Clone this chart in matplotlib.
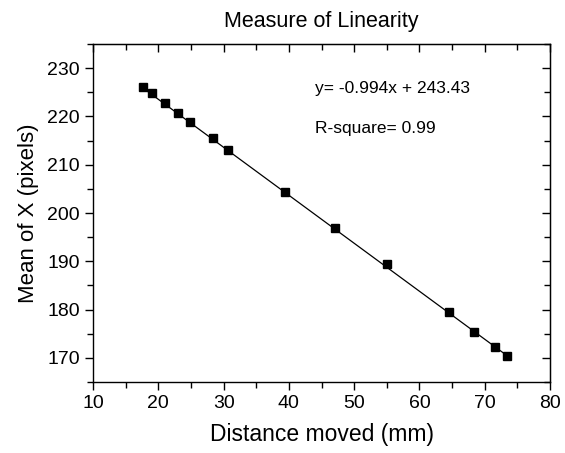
import numpy as np
import matplotlib
matplotlib.use('Agg')
import matplotlib.pyplot as plt
from matplotlib.ticker import MultipleLocator

plt.rcParams['font.family'] = ['Liberation Sans', 'DejaVu Sans']

# distance moved (mm) and mean of X (pixels)
distance = [17.7, 19.0, 21.1, 23.0, 24.9, 28.4, 30.7, 39.4, 47.1, 55.0, 64.5, 68.3, 71.6, 73.4]
mean_x = [226.0, 224.9, 222.8, 220.8, 218.9, 215.5, 213.1, 204.4, 196.8, 189.4, 179.4, 175.4, 172.3, 170.3]

# linear fit reported on the chart
slope = -0.994
intercept = 243.43
r_square = 0.99

fig = plt.figure(figsize=(5.65, 4.53), dpi=100)
ax = fig.add_axes([0.1646, 0.1567, 0.809, 0.7462])

xs = np.array([distance[0], distance[-1]])
ax.plot(xs, slope * xs + intercept, color='black', linewidth=0.9)
ax.plot(distance, mean_x, 's', color='black', markersize=5.5)

ax.set_xlim(10, 80)
ax.set_ylim(165, 235)


def set_ticks(axis):
    axis.set_major_locator(MultipleLocator(10))
    axis.set_minor_locator(MultipleLocator(5))


set_ticks(ax.xaxis)
set_ticks(ax.yaxis)
ax.tick_params(which='both', direction='out', top=False, right=False, labelsize=14, width=1)
ax.tick_params(which='major', length=6)
ax.tick_params(which='minor', length=4)

# inward ticks on top and right
axt = ax.secondary_xaxis('top')
set_ticks(axt.xaxis)
axt.tick_params(which='both', direction='in', labeltop=False, width=1)
axt.tick_params(which='major', length=6)
axt.tick_params(which='minor', length=4)
axr = ax.secondary_yaxis('right')
set_ticks(axr.yaxis)
axr.tick_params(which='both', direction='in', labelright=False, width=1)
axr.tick_params(which='major', length=6)
axr.tick_params(which='minor', length=4)

for s in ax.spines.values():
    s.set_linewidth(1)

ax.set_xlabel('Distance moved (mm)', fontsize=16.5, labelpad=8)
ax.set_ylabel('Mean of X (pixels)', fontsize=16, labelpad=6)
ax.set_title('Measure of Linearity', fontsize=15.5, pad=12)

ax.text(0.486, 0.855, 'y= %.3fx + %.2f' % (slope, intercept), transform=ax.transAxes,
        fontsize=12.5, va='baseline')
ax.text(0.486, 0.7376, 'R-square= %.2f' % r_square, transform=ax.transAxes,
        fontsize=12.5, va='baseline')

fig.savefig('out.png', dpi=100)
